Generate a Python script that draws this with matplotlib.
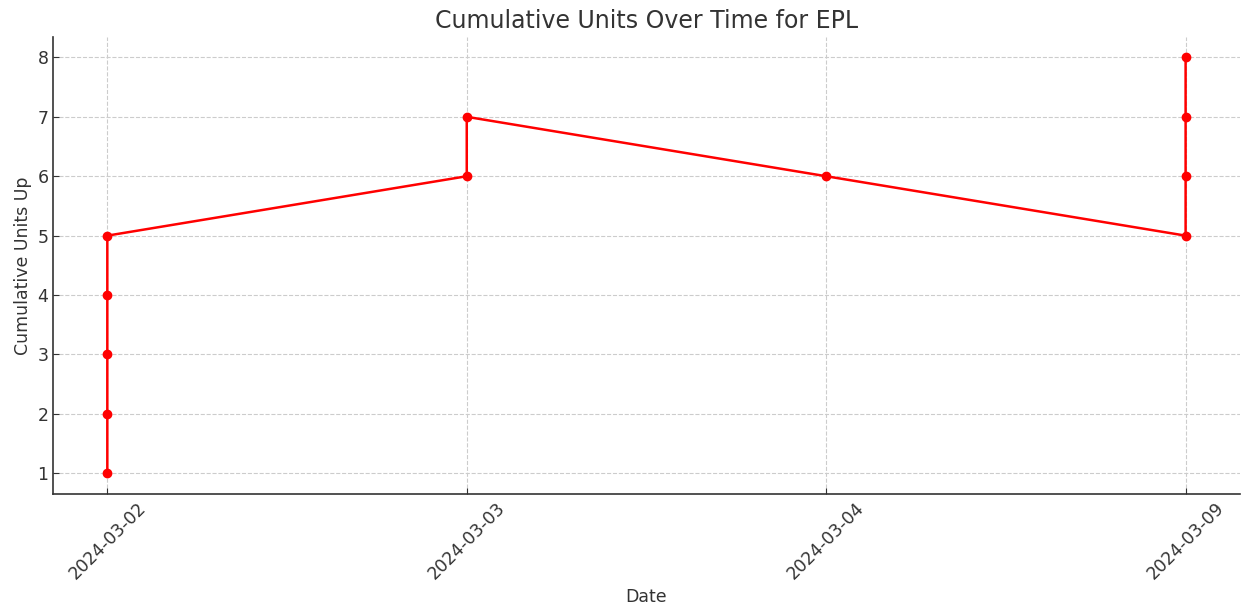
import matplotlib
matplotlib.use("Agg")
import matplotlib.pyplot as plt

# Data (categorical dates, cumulative units)
dates = ["2024-03-02"] * 5 + ["2024-03-03"] * 2 + ["2024-03-04"] + ["2024-03-09"] * 4
cumulative_units = [1, 2, 3, 4, 5, 6, 7, 6, 5, 6, 7, 8]

TEXT = "#333333"

fig, ax = plt.subplots(figsize=(12.42, 6.10), dpi=100)
ax.plot(dates, cumulative_units, marker="o", color="red", linewidth=1.8, markersize=6)

ax.set_title("Cumulative Units Over Time for EPL", fontsize=17, color=TEXT)
ax.set_xlabel("Date", fontsize=12.5, color=TEXT)
ax.set_ylabel("Cumulative Units Up", fontsize=12.5, color=TEXT)

ax.grid(True, linestyle="--", color="#cccccc", linewidth=0.8)
ax.set_axisbelow(True)
for side in ("top", "right"):
    ax.spines[side].set_visible(False)
for side in ("left", "bottom"):
    ax.spines[side].set_color(TEXT)
    ax.spines[side].set_linewidth(1.2)

ax.tick_params(direction="in", labelsize=12.5, colors=TEXT, length=4)
plt.setp(ax.get_xticklabels(), rotation=45)
ax.set_xlim(-0.15, 3.15)

fig.subplots_adjust(left=0.043, right=0.998, top=0.94, bottom=0.19)
fig.savefig("out.png", dpi=100)
